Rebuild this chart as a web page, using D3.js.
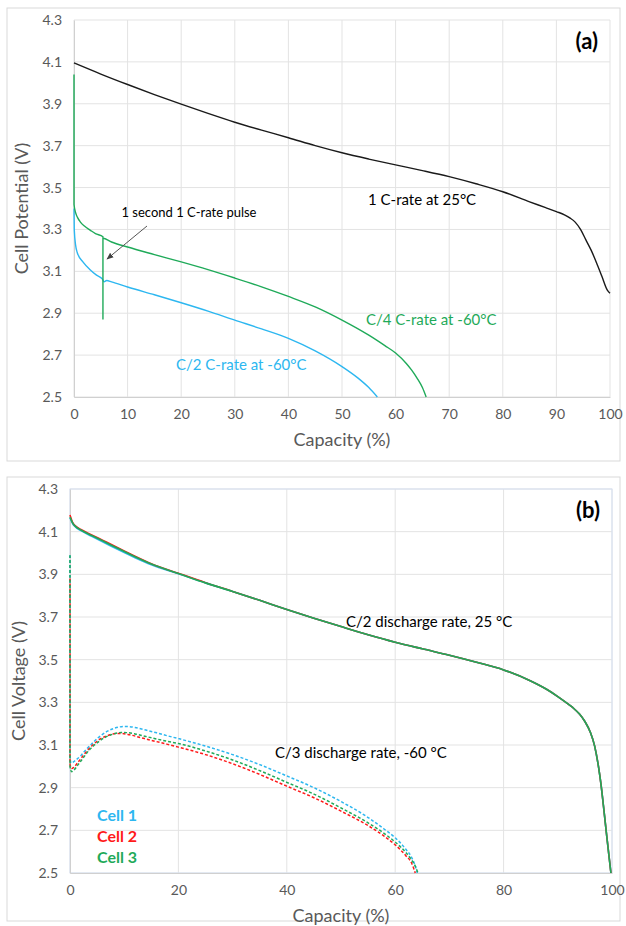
<!DOCTYPE html>
<html>
<head>
<meta charset="utf-8">
<title>Cell discharge curves</title>
<script src="https://d3js.org/d3.v7.min.js"></script>
<style>
  body { margin: 0; background: #fff; }
  text { font-family: Lato, "Open Sans", sans-serif; }
  .tick text { fill: #595959; font-size: 14px; }
</style>
</head>
<body>
<div id="chart"></div>
<script>
// ---- data ----
// panel (a): capacity (%) vs cell potential (V)
var aBlack1C = [[0,4.095],[5,4.042],[10,3.992],[15,3.944],[20,3.898],[25,3.854],[30,3.812],[35,3.774],[40,3.738],[45,3.70],[50,3.666],[55,3.636],[60,3.608],[65,3.581],[70,3.552],[75,3.518],[80,3.48],[85,3.432],[88,3.404],[90,3.385],[91.5,3.37],[92.5,3.355],[93.5,3.335],[94.5,3.30],[95.5,3.25],[96.5,3.20],[97.5,3.14],[98.5,3.075],[99.5,3.01],[100,2.995]];
var aGreenC4 = [[0,4.04],[0,3.42],[0.3,3.38],[0.7,3.355],[1.2,3.335],[2,3.315],[3,3.297],[4,3.28],[5.4,3.265],[5.4,2.87],[5.4,3.258],[7,3.24],[10,3.216],[15,3.18],[20,3.145],[25,3.108],[30,3.068],[35,3.026],[40,2.98],[45,2.93],[50,2.867],[55,2.795],[58,2.745],[60,2.71],[62,2.66],[63,2.628],[64,2.59],[65,2.545],[65.7,2.5]];
var aBlueC2 = [[0,3.40],[0.05,3.30],[0.3,3.225],[0.6,3.19],[1.7,3.144],[3,3.108],[4.2,3.082],[5.3,3.063],[5.6,3.05],[6.1,3.056],[7,3.05],[10,3.025],[15,2.988],[20,2.95],[25,2.91],[30,2.867],[35,2.825],[40,2.78],[45,2.72],[50,2.645],[53,2.59],[55,2.545],[56.6,2.5]];
var aTicksX = [0,10,20,30,40,50,60,70,80,90,100];

// panel (b): three cells, C/2 at 25 °C (solid) and C/3 at -60 °C (dashed)
var bCell1Warm = [[0,4.165],[0.5,4.137],[1,4.122],[2,4.105],[4,4.078],[6,4.052],[8,4.027],[10,4.002],[12,3.978],[15,3.945],[20,3.903],[25,3.86],[30,3.82],[35,3.778],[40,3.735],[45,3.694],[50,3.655],[55,3.617],[60,3.582],[65,3.551],[70,3.521],[75,3.488],[80,3.452],[85,3.40],[88,3.36],[90,3.327],[92,3.29],[93,3.27],[94,3.245],[95,3.21],[96,3.16],[96.8,3.095],[97.5,3.0],[98,2.91],[98.4,2.82],[99,2.68],[99.4,2.59],[99.8,2.5]];
var bCell2Warm = [[0,4.178],[0.5,4.142],[1,4.127],[2,4.11],[4,4.085],[6,4.06],[8,4.035],[10,4.01],[12,3.985],[15,3.95],[20,3.905],[25,3.861],[30,3.82],[35,3.778],[40,3.735],[45,3.694],[50,3.655],[55,3.617],[60,3.582],[65,3.551],[70,3.521],[75,3.488],[80,3.452],[85,3.40],[88,3.36],[90,3.327],[92,3.29],[93,3.27],[94,3.245],[95,3.21],[96,3.16],[96.8,3.095],[97.5,3.0],[98,2.91],[98.4,2.82],[99,2.68],[99.4,2.59],[99.8,2.5]];
var bCell3Warm = [[0,4.168],[0.5,4.14],[1,4.125],[2,4.108],[4,4.082],[6,4.057],[8,4.032],[10,4.007],[12,3.982],[15,3.948],[20,3.904],[25,3.86],[30,3.82],[35,3.778],[40,3.735],[45,3.694],[50,3.655],[55,3.617],[60,3.582],[65,3.551],[70,3.521],[75,3.488],[80,3.452],[85,3.40],[88,3.36],[90,3.327],[92,3.29],[93,3.27],[94,3.245],[95,3.21],[96,3.16],[96.8,3.095],[97.5,3.0],[98,2.91],[98.4,2.82],[99,2.68],[99.4,2.59],[99.8,2.5]];
var bCell1Cold = [[0,3.99],[0,3.05],[0.2,3.015],[0.5,3.018],[1,3.028],[2,3.05],[3,3.08],[4,3.105],[5,3.13],[6,3.15],[7,3.166],[8,3.177],[9,3.184],[10,3.187],[11,3.186],[12,3.182],[14,3.17],[16,3.157],[18,3.143],[20,3.13],[25,3.095],[30,3.055],[35,3.008],[40,2.955],[45,2.9],[50,2.835],[55,2.76],[58,2.705],[60,2.665],[62,2.61],[63,2.575],[63.6,2.54],[64.1,2.5]];
var bCell2Cold = [[0,3.88],[0,3.01],[0.3,2.99],[0.7,2.995],[1.5,3.02],[2.5,3.052],[3.5,3.082],[4.5,3.107],[5.5,3.127],[6.5,3.14],[7.5,3.149],[8.5,3.154],[9.5,3.154],[11,3.148],[13,3.135],[15,3.122],[18,3.103],[20,3.09],[25,3.055],[30,3.012],[35,2.962],[40,2.907],[45,2.853],[50,2.79],[55,2.722],[58,2.672],[60,2.632],[62,2.58],[63,2.548],[63.7,2.5]];
var bCell3Cold = [[0,3.99],[0,3.0],[0.3,2.975],[0.7,2.982],[1.5,3.008],[2.5,3.042],[3.5,3.075],[4.5,3.1],[5.5,3.12],[6.5,3.136],[7.5,3.147],[8.5,3.155],[9.5,3.159],[10.5,3.158],[12,3.152],[14,3.14],[16,3.128],[18,3.117],[20,3.107],[25,3.072],[30,3.03],[35,2.98],[40,2.925],[45,2.87],[50,2.805],[55,2.735],[58,2.685],[60,2.645],[62,2.595],[63,2.562],[63.7,2.532],[64.2,2.5]];
var bTicksX = [0,20,40,60,80,100];
var yTicks = [2.5,2.7,2.9,3.1,3.3,3.5,3.7,3.9,4.1,4.3];
var cellNames = ["Cell 1","Cell 2","Cell 3"];

var BLUE = "#2db7f0", GREEN = "#1faa59", RED = "#ff1a1a", GRID = "#e3e3e3", AXIS = "#d0d0d0", INK = "#595959";

var svg = d3.select("#chart").append("svg")
    .attr("width", 626)
    .attr("height", 926);

function panel(box, plot, xTicks, yTitle, tag) {
  svg.append("rect")
    .attr("x", box.x).attr("y", box.y)
    .attr("width", box.w).attr("height", box.h)
    .attr("fill", "#fff").attr("stroke", "#d9d9d9");

  var g = svg.append("g").attr("transform", "translate(" + plot.left + "," + plot.top + ")");
  var x = d3.scaleLinear().domain([0, 100]).range([0, plot.w]);
  var y = d3.scaleLinear().domain([2.5, 4.3]).range([plot.h, 0]);

  // grid
  g.append("g").selectAll("line").data(xTicks).join("line")
    .attr("x1", d => x(d)).attr("x2", d => x(d))
    .attr("y1", 0).attr("y2", plot.h)
    .attr("stroke", GRID);
  g.append("g").selectAll("line").data(yTicks).join("line")
    .attr("x1", 0).attr("x2", plot.w)
    .attr("y1", d => y(d)).attr("y2", d => y(d))
    .attr("stroke", GRID);
  if (plot.frame) {
    g.append("rect").attr("width", plot.w).attr("height", plot.h)
      .attr("fill", "none").attr("stroke", plot.frame);
  }

  var xAxis = g.append("g").attr("transform", "translate(0," + plot.h + ")")
    .call(d3.axisBottom(x).tickValues(xTicks).tickSize(0).tickPadding(12).tickFormat(d3.format("d")));
  xAxis.select(".domain").attr("stroke", AXIS);
  var yAxis = g.append("g")
    .call(d3.axisLeft(y).tickValues(yTicks).tickSize(0).tickPadding(12).tickFormat(d3.format(".1f")));
  yAxis.select(".domain").attr("stroke", AXIS);

  g.append("text")
    .attr("x", plot.w / 2).attr("y", plot.h + 49)
    .attr("text-anchor", "middle")
    .attr("fill", INK).attr("font-size", 18)
    .text("Capacity (%)");
  g.append("text")
    .attr("transform", "translate(" + (plot.yTitleX) + "," + (plot.h / 2) + ") rotate(-90)")
    .attr("text-anchor", "middle")
    .attr("fill", INK).attr("font-size", 18)
    .text(yTitle);
  g.append("text")
    .attr("x", plot.w - 12).attr("y", 29)
    .attr("text-anchor", "end")
    .attr("font-weight", "bold").attr("font-size", 22).attr("fill", "#000")
    .text(tag);

  return {g: g, x: x, y: y};
}

function drawLine(p, data, color, width, dash) {
  p.g.append("path")
    .datum(data)
    .attr("fill", "none")
    .attr("stroke", color)
    .attr("stroke-width", width)
    .attr("stroke-dasharray", dash || null)
    .attr("d", d3.line()
      .x(d => p.x(d[0]))
      .y(d => p.y(d[1]))
      .curve(d3.curveMonotoneX));
}

// ---- panel (a) ----
var pa = panel({x: 7, y: 8, w: 613, h: 453},
               {left: 74, top: 20, w: 536, h: 377, yTitleX: -46},
               aTicksX, "Cell Potential (V)", "(a)");
drawLine(pa, aBlueC2, BLUE, 1.4);
drawLine(pa, aGreenC4, GREEN, 1.4);
drawLine(pa, aBlack1C, "#1a1a1a", 1.4);

pa.g.append("text").attr("x", 115).attr("y", 197)
  .attr("text-anchor", "middle").attr("font-size", 13).attr("fill", "#000")
  .text("1 second 1 C-rate pulse");
svg.append("defs").append("marker")
  .attr("id", "arrow").attr("viewBox", "0 0 10 10")
  .attr("refX", 9).attr("refY", 5)
  .attr("markerWidth", 7).attr("markerHeight", 7)
  .attr("orient", "auto")
  .append("path").attr("d", "M0,1 L10,5 L0,9 Z").attr("fill", "#404040");
pa.g.append("line")
  .attr("x1", 73).attr("y1", 206).attr("x2", 33).attr("y2", 239)
  .attr("stroke", "#555").attr("stroke-width", 1)
  .attr("marker-end", "url(#arrow)");

pa.g.append("text").attr("x", 294).attr("y", 185).attr("font-size", 15).attr("fill", "#000").text("1 C-rate at 25°C");
pa.g.append("text").attr("x", 292).attr("y", 305).attr("font-size", 15).attr("fill", GREEN).text("C/4 C-rate at -60°C");
pa.g.append("text").attr("x", 102).attr("y", 350).attr("font-size", 15).attr("fill", BLUE).text("C/2 C-rate at -60°C");

// ---- panel (b) ----
var pb = panel({x: 7, y: 477, w: 613, h: 444},
               {left: 70, top: 489, w: 542, h: 384, yTitleX: -45, frame: "#d5e0f2"},
               bTicksX, "Cell Voltage (V)", "(b)");
var warm = [bCell1Warm, bCell2Warm, bCell3Warm];
var cold = [bCell1Cold, bCell2Cold, bCell3Cold];
var cellColors = [BLUE, RED, GREEN];
warm.forEach((d, i) => drawLine(pb, d, cellColors[i], 1.6));
cold.forEach((d, i) => drawLine(pb, d, cellColors[i], 1.5, "3,2"));

pb.g.append("text").attr("x", 276).attr("y", 138).attr("font-size", 15).attr("fill", "#000").text("C/2 discharge rate, 25 °C");
pb.g.append("text").attr("x", 205).attr("y", 269).attr("font-size", 15).attr("fill", "#000").text("C/3 discharge rate, -60 °C");

pb.g.append("g").selectAll("text").data(cellNames).join("text")
  .attr("x", 27)
  .attr("y", (d, i) => 332 + i * 21)
  .attr("font-size", 16).attr("font-weight", "bold")
  .attr("fill", (d, i) => cellColors[i])
  .text(d => d);
</script>
</body>
</html>
